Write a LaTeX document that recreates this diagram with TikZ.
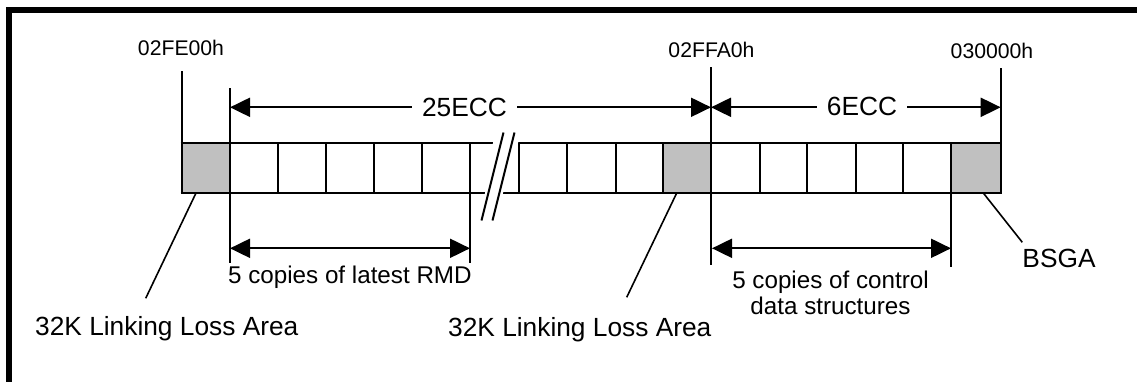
\documentclass[tikz,border=0pt]{standalone}
\usepackage{fontspec}
\setmainfont{Liberation Sans}
\usetikzlibrary{arrows.meta}
\definecolor{cellgray}{HTML}{C0C0C0}
\tikzset{
  barline/.style={line width=2pt},
  leader/.style={line width=1.6pt},
  dimarrow/.style={line width=2pt,{Triangle[length=20pt,width=19pt]}-{Triangle[length=20pt,width=19pt]}},
  biglbl/.style={font=\fontsize{26.3}{30}\selectfont, inner sep=0pt},
  addrlbl/.style={font=\fontsize{21.2}{24}\selectfont, inner sep=0pt},
  copylbl/.style={font=\fontsize{24.2}{26}\selectfont, inner sep=0pt},
  framebox/.style={line width=5.7pt},
}
\begin{document}
\begin{tikzpicture}[x=1pt,y=-1pt]
\useasboundingbox (0,0) rectangle (1137,381);
% frame (only top and left edges visible)
\begin{scope}
  \clip (0,0) rectangle (1137,381);
  \coordinate (fbl) at (9,395);
  \coordinate (ftl) at (9,10);
  \coordinate (ftr) at (1150,10);
  \draw[framebox] (fbl) -- (ftl) -- (ftr);
\end{scope}

% bar geometry
\def\bt{143}\def\bb{193}
% gray cells
\fill[cellgray] (181.7,\bt) rectangle (230,\bb);
\fill[cellgray] (663,\bt) rectangle (711,\bb);
\fill[cellgray] (951,\bt) rectangle (1000.7,\bb);
% horizontal lines of bar
\draw[barline] (180.7,\bt) -- (1001.7,\bt);
\draw[barline] (180.7,\bb) -- (1001.7,\bb);
% break mask
\fill[white] (493.8,138) -- (519.5,138) -- (501.5,198) -- (484.2,198) -- cycle;
% dividers
\foreach \x in {181.7,230,278,326,374,422,470,519,567,615.7,663,711,760,807,855.7,903,951,1000.7}
  \draw[barline] (\x,\bt) -- (\x,\bb);
% break slashes
\coordinate (s1t) at (503.5,132.5); \coordinate (s1b) at (481.5,220.5);
\coordinate (s2t) at (514.5,132.5); \coordinate (s2b) at (492.5,220.5);
\draw[barline] (s1t) -- (s1b);
\draw[barline] (s2t) -- (s2b);

% address labels
\node[addrlbl, anchor=base] (a1) at (181,55) {02FE00h};
\node[addrlbl, anchor=base] (a2) at (711.5,57) {02FFA0h};
\node[addrlbl, anchor=base] (a3) at (992,58) {030000h};

% tick lines
\coordinate (t0a) at (181.7,71);   \coordinate (t0b) at (181.7,\bt);
\coordinate (t1a) at (230,88);     \coordinate (t1b) at (230,263);
\coordinate (t2a) at (711,67);     \coordinate (t2b) at (711,265);
\coordinate (t3a) at (1000.7,68);  \coordinate (t3b) at (1000.7,\bt);
\coordinate (t4a) at (470,\bb);    \coordinate (t4b) at (470,263);
\coordinate (t5a) at (951,\bb);    \coordinate (t5b) at (951,266.7);
\draw[barline] (t0a) -- (t0b);
\draw[barline] (t1a) -- (t1b);
\draw[barline] (t2a) -- (t2b);
\draw[barline] (t3a) -- (t3b);
\draw[barline] (t4a) -- (t4b);
\draw[barline] (t5a) -- (t5b);

% upper dimension arrows
\coordinate (u1l) at (230,107.3);  \coordinate (u1r) at (711,107.3);
\coordinate (u2l) at (711,107.3);  \coordinate (u2r) at (1000.7,107.3);
\draw[dimarrow] (u1l) -- (u1r);
\draw[dimarrow] (u2l) -- (u2r);
\node[biglbl, fill=white, inner xsep=10pt] (e25) at (464.5,107.5) {25ECC};
\node[biglbl, fill=white, inner xsep=10pt] (e6) at (862,106.5) {6ECC};

% lower dimension arrows
\coordinate (d1l) at (230,248.3);  \coordinate (d1r) at (470,248.3);
\coordinate (d2l) at (712,248.3);  \coordinate (d2r) at (951,248.3);
\draw[dimarrow] (d1l) -- (d1r);
\draw[dimarrow] (d2l) -- (d2r);
\node[copylbl, anchor=base west] (rmd) at (228,283) {5 copies of latest RMD};
\node[copylbl, anchor=base] (ctl1) at (830.5,288.5) {5 copies of control};
\node[copylbl, anchor=base] (ctl2) at (830.5,314) {data structures};

% leader lines and their labels
\node[biglbl, anchor=base west] (lla1) at (35,335.5) {32K Linking Loss Area};
\node[biglbl, anchor=base west] (lla2) at (448,336.5) {32K Linking Loss Area};
\node[biglbl, anchor=base] (bsga) at (1059,267) {BSGA};
\coordinate (g1) at (196,\bb);     \coordinate (l1) at (145.7,298.3);
\coordinate (g2) at (676.7,\bb);   \coordinate (l2) at (626.7,297.3);
\coordinate (g3) at (983.3,\bb);   \coordinate (l3) at (1022.3,242.3);
\draw[leader] (g1) -- (l1);
\draw[leader] (g2) -- (l2);
\draw[leader] (g3) -- (l3);
\end{tikzpicture}
\end{document}
